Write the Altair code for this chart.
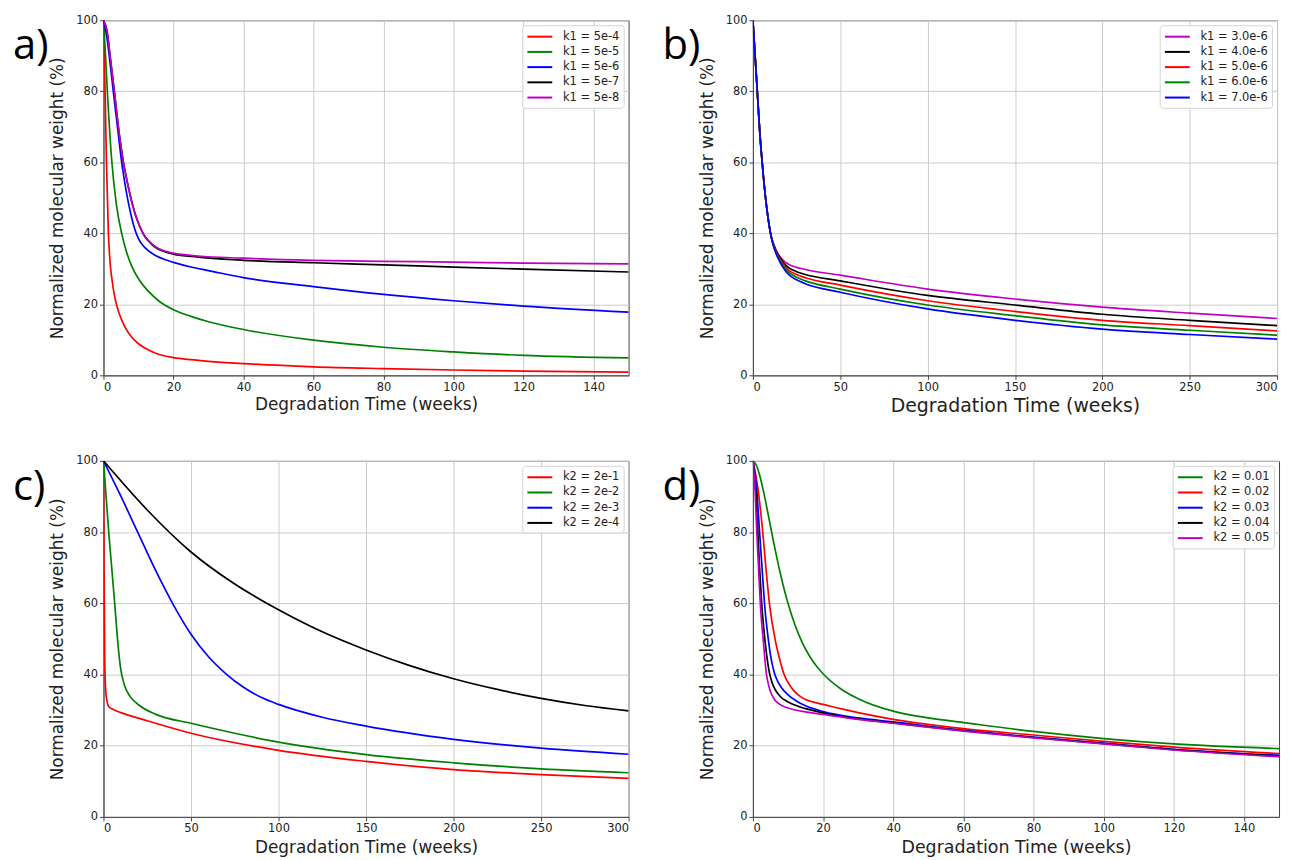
import altair as alt
import pandas as pd

# ---------------- data ----------------
PANEL_LABELS = ["a)", "b)", "c)", "d)"]
X_TITLE = "Degradation Time (weeks)"
Y_TITLE = "Normalized molecular weight (%)"

# panel a (k1 series)
A_NAMES = ["k1 = 5e-4", "k1 = 5e-5", "k1 = 5e-6", "k1 = 5e-7", "k1 = 5e-8"]
A_COLORS = ["#ff0000", "#008000", "#0000ff", "#000000", "#c000c0"]
A1_T = [0, 0.3, 0.5, 0.85, 1.4, 1.7, 2, 2.5, 3, 3.5, 4.3, 5.2, 6.2, 8.1, 10, 12, 14.7, 17, 20, 25, 30, 40, 60, 80, 100, 120, 150]
A1_V = [100, 88, 78, 60, 40, 34.5, 30.5, 26.5, 23.2, 20.8, 18, 15.6, 13.5, 10.7, 8.9, 7.6, 6.3, 5.6, 5.0, 4.4, 3.95, 3.3, 2.4, 1.9, 1.5, 1.2, 0.9]
A2_T = [0, 0.5, 1.1, 2.4, 3.7, 5.2, 6.5, 8.1, 10, 12.8, 16, 20, 25, 30, 40, 60, 80, 100, 120, 150]
A2_V = [100, 91.6, 80, 60, 48, 40, 35, 30.7, 27.2, 23.7, 20.8, 18.5, 16.6, 15.1, 12.9, 9.9, 7.9, 6.6, 5.6, 4.9]
A3_T = [0, 1, 2, 2.8, 4, 5.2, 6, 7, 8, 9, 10, 11, 12, 13.5, 15, 17.5, 20, 25, 30, 40, 60, 80, 100, 120, 150]
A3_V = [100, 95, 87, 80, 70, 60, 54.8, 49.2, 44.6, 41.0, 38.5, 36.9, 35.8, 34.6, 33.7, 32.6, 31.8, 30.5, 29.5, 27.5, 25, 22.8, 21, 19.5, 17.8]
A4_T = [0, 1, 2, 3.1, 4.5, 5.7, 7, 8.1, 9, 10.4, 11.5, 12.8, 14, 15.6, 17.5, 20, 27, 40, 60, 80, 100, 120, 150]
A4_V = [100, 97, 89, 80, 68, 60, 53.5, 48.8, 45.6, 41.9, 39.6, 37.9, 36.7, 35.6, 34.8, 34.1, 33.3, 32.4, 31.7, 31.1, 30.5, 29.9, 29.1]
A5_T = [0, 1, 2, 3.1, 4.5, 5.7, 7, 8.1, 9, 10.4, 11.5, 12.8, 14, 15.6, 17.5, 20, 27, 40, 60, 80, 100, 120, 150]
A5_V = [100, 97, 89, 80, 68, 60, 53.5, 48.8, 45.6, 41.9, 39.7, 38.0, 36.9, 35.8, 35.0, 34.4, 33.6, 33.0, 32.4, 32.1, 31.9, 31.6, 31.4]

# panel b (k1 series)
B_NAMES = ["k1 = 3.0e-6", "k1 = 4.0e-6", "k1 = 5.0e-6", "k1 = 6.0e-6", "k1 = 7.0e-6"]
B_COLORS = ["#c000c0", "#000000", "#ff0000", "#008000", "#0000ff"]
B_T = [0, 1, 2.5, 4, 5.3, 6, 7, 8, 9, 10, 11, 12, 13, 14, 15.7, 17.5, 20, 25, 30, 50, 100, 150, 200, 250, 300]
B1_V = [100, 92, 80, 68, 60, 56, 51, 46.8, 43.2, 40.2, 38.2, 36.8, 35.6, 34.6, 33.3, 32.3, 31.4, 30.4, 29.8, 28.2, 24.3, 21.5, 19.2, 17.5, 16.0]
B2_V = [100, 92, 80, 68, 60, 56, 51, 46.8, 43.2, 40.2, 38.1, 36.6, 35.3, 34.3, 32.9, 31.7, 30.5, 29.2, 28.4, 26.6, 22.5, 19.8, 17.2, 15.5, 14.0]
B3_V = [100, 92, 80, 68, 60, 56, 51, 46.8, 43.2, 40.2, 38.0, 36.4, 35.1, 34.0, 32.5, 31.2, 29.8, 28.4, 27.5, 25.4, 21.0, 18.0, 15.5, 14.0, 12.5]
B4_V = [100, 92, 80, 68, 60, 56, 51, 46.8, 43.2, 40.2, 37.9, 36.2, 34.9, 33.7, 32.1, 30.7, 29.2, 27.6, 26.6, 24.3, 19.8, 16.8, 14.2, 12.7, 11.3]
B5_V = [100, 92, 80, 68, 60, 56, 51, 46.8, 43.2, 40.2, 37.8, 36.0, 34.6, 33.4, 31.7, 30.2, 28.6, 26.9, 25.8, 23.4, 18.7, 15.5, 13.0, 11.5, 10.2]

# panel c (k2 series)
C_NAMES = ["k2 = 2e-1", "k2 = 2e-2", "k2 = 2e-3", "k2 = 2e-4"]
C_COLORS = ["#ff0000", "#008000", "#0000ff", "#000000"]
C1_T = [0, 0.3, 0.7, 1.2, 2, 3, 5, 10, 25, 50, 100, 150, 200, 250, 300]
C1_V = [100, 70, 45, 36, 32.5, 31, 30.3, 29.3, 27, 23.5, 18.7, 15.6, 13.3, 11.9, 10.8]
C2_T = [0, 1.5, 3, 4.7, 6.4, 8, 9.7, 12, 15, 20, 30, 50, 75, 100, 150, 200, 250, 300]
C2_V = [100, 90, 80, 70, 60, 50, 42, 37, 34, 31.5, 28.8, 26.3, 23.5, 21, 17.5, 15.2, 13.5, 12.4]
C3_T = [0, 10, 20, 30, 40, 50, 60, 70, 80, 90, 100, 125, 150, 200, 250, 300]
C3_V = [100, 90, 79.5, 69, 59.5, 51.3, 45, 40.2, 36.4, 33.6, 31.6, 28, 25.5, 21.8, 19.3, 17.6]
C4_T = [0, 25, 50, 75, 100, 125, 150, 175, 200, 225, 250, 275, 300]
C4_V = [100, 86.2, 74.4, 65.4, 58.2, 52.0, 46.9, 42.5, 38.8, 35.8, 33.3, 31.3, 29.8]

# panel d (k2 series)
D_NAMES = ["k2 = 0.01", "k2 = 0.02", "k2 = 0.03", "k2 = 0.04", "k2 = 0.05"]
D_COLORS = ["#008000", "#ff0000", "#0000ff", "#000000", "#c000c0"]
D1_T = [0, 1, 2, 3, 4, 5, 6, 7, 8, 9, 10, 12, 14, 16, 18, 20, 25, 30, 40, 50, 60, 80, 100, 120, 150]
D1_V = [100, 98.7, 95.7, 91.5, 86.7, 81.7, 76.7, 72, 67.6, 63.6, 60, 53.9, 49.1, 45.4, 42.5, 40.2, 36, 33.2, 29.7, 27.8, 26.5, 24, 22, 20.5, 19.2]
D2_T = [0, 1.4, 2.8, 3.7, 4.7, 6.5, 7.7, 8.9, 10, 11, 12, 13, 14, 15, 17, 20, 25, 30, 40, 60, 80, 100, 120, 150]
D2_V = [100, 92.4, 80, 70, 60, 49, 44, 40, 37.8, 36.3, 35.1, 34.2, 33.5, 33.0, 32.3, 31.6, 30.4, 29.3, 27.4, 24.8, 23, 21.2, 19.6, 17.8]
D3_T = [0, 1, 1.9, 2.6, 3.3, 4.5, 5, 6.1, 7, 8, 10, 12.5, 15, 20, 30, 40, 60, 80, 100, 120, 150]
D3_V = [100, 93, 80, 70, 60, 49, 45.5, 40.5, 38.2, 36.5, 34.3, 32.5, 31.2, 29.6, 27.8, 26.7, 24.3, 22.4, 20.7, 19, 17.3]
D4_T = [0, 0.8, 1.4, 1.9, 2.5, 3.5, 4.7, 5.5, 6.5, 8, 10, 12.5, 15, 20, 30, 40, 60, 80, 100, 120, 150]
D4_V = [100, 92, 80, 70, 60, 49, 40.5, 37.6, 35.5, 33.6, 32.3, 31.2, 30.4, 29.2, 27.5, 26.4, 24.2, 22.3, 20.6, 18.9, 17.1]
D5_T = [0, 0.6, 1.1, 1.6, 2.1, 3, 3.8, 4.4, 5, 6, 7, 8, 10, 15, 20, 30, 40, 60, 80, 100, 120, 150]
D5_V = [100, 92, 80, 70, 60, 49, 40.5, 37.3, 35.2, 33.2, 32.1, 31.4, 30.6, 29.5, 28.8, 27.4, 26.3, 24.1, 22.2, 20.5, 18.8, 16.9]

X_TICKS_150 = [0, 20, 40, 60, 80, 100, 120, 140]
X_TICKS_300 = [0, 50, 100, 150, 200, 250, 300]
Y_TICKS = [0, 20, 40, 60, 80, 100]

FONT = "DejaVu Sans"


def build_df(names, series):
    rows = []
    for name, (ts, vs) in zip(names, series):
        for t, v in zip(ts, vs):
            rows.append({"series": name, "t": t, "v": v})
    return pd.DataFrame(rows)


def panel(names, colors, series, xmax, xticks, label, w, h, xtitle_size, xtitle_y):
    df = build_df(names, series)
    lines = alt.Chart(df).mark_line(strokeWidth=1.7, interpolate="monotone", clip=True).encode(
        x=alt.X("t:Q", scale=alt.Scale(domain=[0, xmax], nice=False, zero=True),
                axis=alt.Axis(values=xticks, title=X_TITLE, titleFontSize=xtitle_size,
                              titleY=xtitle_y, titleBaseline="middle")),
        y=alt.Y("v:Q", scale=alt.Scale(domain=[0, 100], nice=False),
                axis=alt.Axis(values=Y_TICKS, title=Y_TITLE, titleFontSize=17,
                              titleX=-46, titleBaseline="middle")),
        color=alt.Color("series:N", sort=names,
                        scale=alt.Scale(domain=names, range=colors),
                        legend=alt.Legend(title=None, orient="top-right", offset=5)),
    )
    text = alt.Chart(pd.DataFrame({"lab": [label]})).mark_text(
        font="Open Sans", fontSize=42, align="left", baseline="alphabetic", color="black"
    ).encode(x=alt.value(-91), y=alt.value(39), text="lab:N")
    return alt.layer(lines, text).properties(width=w, height=h)


pa = panel(A_NAMES, A_COLORS, [(A1_T, A1_V), (A2_T, A2_V), (A3_T, A3_V), (A4_T, A4_V), (A5_T, A5_V)],
           150, X_TICKS_150, PANEL_LABELS[0], 528, 357, 17, 29)
pb = panel(B_NAMES, B_COLORS, [(B_T, B1_V), (B_T, B2_V), (B_T, B3_V), (B_T, B4_V), (B_T, B5_V)],
           300, X_TICKS_300, PANEL_LABELS[1], 527, 357, 19, 30)
pc = panel(C_NAMES, C_COLORS, [(C1_T, C1_V), (C2_T, C2_V), (C3_T, C3_V), (C4_T, C4_V)],
           300, X_TICKS_300, PANEL_LABELS[2], 528, 358, 17, 31)
pd_ = panel(D_NAMES, D_COLORS, [(D1_T, D1_V), (D2_T, D2_V), (D3_T, D3_V), (D4_T, D4_V), (D5_T, D5_V)],
            150, X_TICKS_150, PANEL_LABELS[3], 529, 358, 17.5, 31)

chart = alt.concat(pa, pb, pc, pd_, columns=2, spacing={"row": 86, "column": 125}, bounds="flush").resolve_scale(
    color="independent"
).resolve_legend(color="independent").properties(
    padding={"left": 4, "top": 3, "right": 4, "bottom": 4},
    background="white",
).configure_view(
    stroke="#444444", strokeWidth=1
).configure_axis(
    grid=True, gridColor="#cccccc", gridWidth=1,
    domainColor="#444444", domainWidth=1,
    tickColor="#444444", tickSize=4, tickWidth=1,
    labelFont=FONT, labelFontSize=11.5, labelColor="#222222", labelPadding=2,
    titleFont=FONT, titleFontWeight="normal", titleColor="#222222",
).configure_legend(
    fillColor="rgba(255,255,255,0.85)", strokeColor="#d5d5d5", cornerRadius=3, padding=4,
    labelFont=FONT, labelFontSize=11.5, labelColor="#222222",
    symbolType="M-1,0H3", symbolSize=156, symbolStrokeWidth=2, labelOffset=22,
    rowPadding=2.3,
)

chart.save("out.html", embed_options={"renderer": "svg", "actions": False})
